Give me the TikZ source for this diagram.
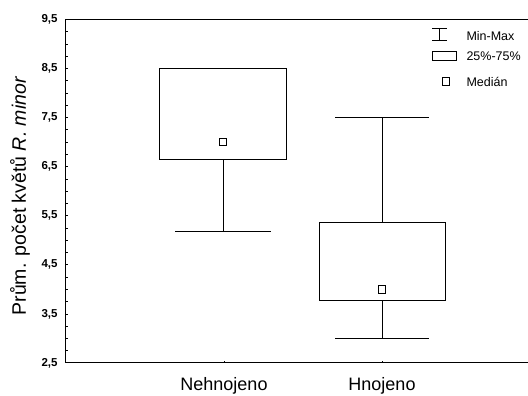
\documentclass[tikz,border=0pt]{standalone}
\usepackage{fontspec}
\setmainfont{Liberation Sans}
\usetikzlibrary{positioning}

\begin{document}
\begin{tikzpicture}[x=1pt,y=49.1pt,line width=1pt,
  box/.style={draw,line width=1pt},
  med/.style={draw,rectangle,line width=0.9pt,minimum size=7.5pt,inner sep=0pt},
  ticklab/.style={anchor=east,font=\fontsize{11.5}{14}\selectfont\bfseries,inner sep=1pt},
  catlab/.style={font=\fontsize{18}{21}\selectfont},
  legtext/.style={anchor=west,font=\fontsize{12.5}{15}\selectfont,inner sep=0pt}]
\useasboundingbox (0,1.8279) rectangle (528,9.8931);

  % frame
  \draw (528,9.5) -- (65,9.5) -- (65,2.5) -- (528,2.5);
  \foreach \v in {2.75,3,...,9.25}
    \draw[line width=0.6pt] (65,\v) -- ++(2.5,0);
  \foreach \v/\t in {2.5/{2,5},3.5/{3,5},4.5/{4,5},5.5/{5,5},6.5/{6,5},7.5/{7,5},8.5/{8,5},9.5/{9,5}}
    \node[ticklab] at (59,\v) {\t};
  \draw[line width=0.6pt] (224,2.5) -- ++(0,0.05);
  \draw[line width=0.6pt] (382,2.5) -- ++(0,0.05);

  % Nehnojeno
  \coordinate (N-lo) at (223,5.17);
  \coordinate (N-q1) at (223,6.65);
  \draw[box] (159.5,6.65) rectangle (286.5,8.5);
  \draw (N-q1) -- (N-lo);
  \draw ([xshift=-48]N-lo) -- ([xshift=48]N-lo);
  \node[med] (N-med) at (223,7.0) {};

  % Hnojeno
  \coordinate (H-lo) at (382,3.0);
  \coordinate (H-q1) at (382,3.78);
  \coordinate (H-q3) at (382,5.36);
  \coordinate (H-hi) at (382,7.5);
  \draw[box] (319,3.78) rectangle (445,5.36);
  \draw (H-q3) -- (H-hi);
  \draw (H-q1) -- (H-lo);
  \draw ([xshift=-47]H-hi) -- ([xshift=47]H-hi);
  \draw ([xshift=-47]H-lo) -- ([xshift=47]H-lo);
  \node[med] (H-med) at (382,4.0) {};

  % legend
  \coordinate (L-hi) at (439.5,9.323);
  \coordinate (L-lo) at (439.5,9.064);
  \draw[line width=0.8pt] (L-hi) -- (L-lo);
  \draw[line width=0.8pt] ([xshift=-7.5]L-hi) -- ([xshift=7.5]L-hi);
  \draw[line width=0.8pt] ([xshift=-7.5]L-lo) -- ([xshift=7.5]L-lo);
  \draw[box] (432.5,8.657) rectangle (456,8.840);
  \node[med] (L-med) at (446,8.233) {};
  \node[legtext] (minmax) at (466,9.16) {Min-Max};
  \node[legtext] (quart) at (466,8.749) {25\%-75\%};
  \node[legtext] (median) at (466,8.233) {Medián};

  % axis titles
  \node[catlab] (neh) at (224,2.03) {Nehnojeno};
  \node[catlab] (hno) at (382,2.03) {Hnojeno};
  \node[rotate=90,font=\fontsize{19.5}{22}\selectfont] (ylab) at (20,5.9)
    {Prům. počet květů \textit{R. minor}};
\end{tikzpicture}
\end{document}
